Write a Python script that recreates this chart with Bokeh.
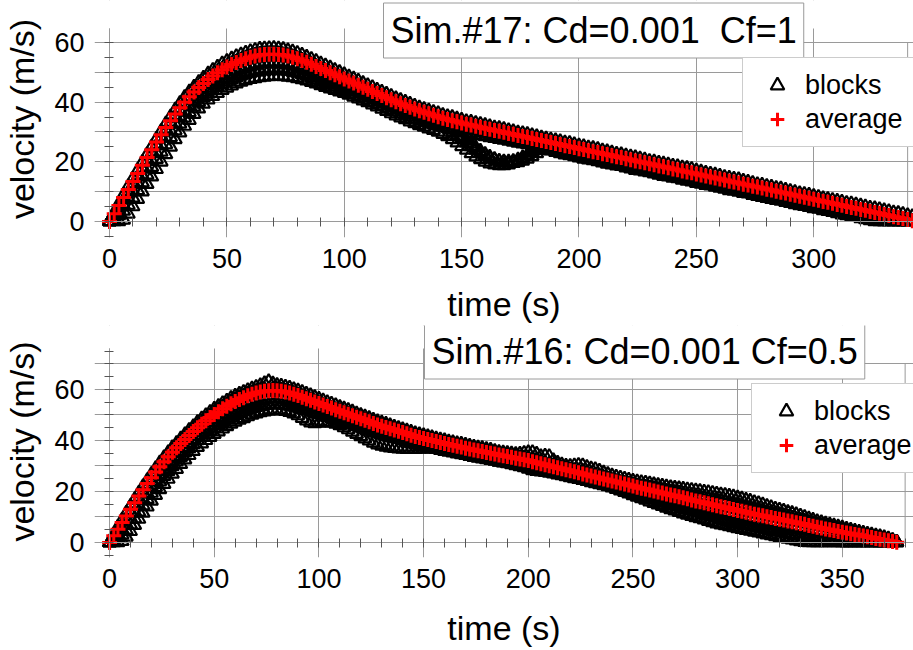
import numpy as np
from bokeh.plotting import figure
from bokeh.layouts import column
from bokeh.models import (Range1d, SingleIntervalTicker, Label, Legend, LegendItem,
                          ColumnDataSource, LinearAxis, CustomJSTickFormatter, BoxAnnotation)
from bokeh.embed import file_html
from bokeh.resources import INLINE

FONT = "Liberation Sans"
GRID = "#9a9a9a"
TICK = "#555555"

# ---------------- Sim.#17 (Cd=0.001, Cf=1) ----------------
TOP_T = np.arange(0, 343, 2)          # sample times (s)
TOP_AVG = [
    0.0, 2.6, 5.3, 8.0, 10.7, 13.4, 16.1, 18.8, 21.4, 24.0,
    26.6, 29.1, 31.5, 33.8, 36.0, 38.1, 40.0, 41.8, 43.4, 44.9,
    46.3, 47.6, 48.8, 49.9, 50.9, 51.8, 52.6, 53.3, 54.0, 54.6,
    55.1, 55.5, 55.8, 56.0, 56.1, 56.1, 56.0, 55.8, 55.5, 55.1,
    54.6, 54.0, 53.4, 52.7, 52.0, 51.3, 50.6, 49.9, 49.2, 48.5,
    47.8, 47.1, 46.4, 45.7, 45.0, 44.3, 43.6, 42.9, 42.2, 41.5,
    40.8, 40.1, 39.5, 38.9, 38.3, 37.7, 37.1, 36.6, 36.1, 35.6,
    35.1, 34.6, 34.2, 33.8, 33.4, 33.0, 32.6, 32.3, 31.9, 31.6,
    31.2, 30.9, 30.5, 30.2, 29.9, 29.5, 29.2, 28.8, 28.5, 28.2,
    27.8, 27.5, 27.1, 26.8, 26.5, 26.1, 25.8, 25.4, 25.1, 24.8,
    24.4, 24.1, 23.7, 23.4, 23.1, 22.7, 22.4, 22.0, 21.7, 21.4,
    21.0, 20.7, 20.3, 20.0, 19.7, 19.3, 19.0, 18.6, 18.3, 18.0,
    17.6, 17.3, 16.9, 16.6, 16.3, 15.9, 15.6, 15.2, 14.9, 14.6,
    14.2, 13.9, 13.5, 13.2, 12.9, 12.5, 12.2, 11.8, 11.5, 11.2,
    10.8, 10.5, 10.1, 9.8, 9.5, 9.1, 8.8, 8.4, 8.1, 7.8,
    7.4, 7.1, 6.7, 6.4, 6.1, 5.7, 5.4, 5.0, 4.7, 4.4,
    4.0, 3.7, 3.3, 3.0, 2.7, 2.3, 2.0, 1.6, 1.3, 1.0,
    0.6, 0.2]

# individual blocks, as departure from the average (m/s)
TOP_BLOCK_A = [
    0.0, 0.4, 0.7, 0.9, 1.0, 1.0, 1.0, 1.0, 1.0, 1.0,
    1.0, 1.1, 1.2, 1.3, 1.4, 1.5, 1.6, 1.7, 1.7, 1.8,
    1.8, 1.9, 1.9, 1.9, 2.0, 1.9, 1.9, 2.0, 1.9, 1.9,
    1.9, 1.9, 2.0, 1.9, 1.9, 2.0, 1.9, 1.9, 1.8, 1.8,
    1.8, 1.8, 1.7, 1.7, 1.7, 1.6, 1.6, 1.6, 1.5, 1.5,
    1.5, 1.4, 1.4, 1.4, 1.3, 1.3, 1.3, 1.2, 1.2, 1.2,
    1.2, 1.1, 1.1, 1.1, 1.1, 1.0, 1.0, 1.0, 1.0, 1.0,
    1.1, 1.0, 1.0, 1.1, 1.0, 1.0, 0.9, 1.0, 1.0, 1.0,
    1.0, 0.9, 0.9, 1.0, 1.0, 1.0, 0.9, 0.9, 1.0, 1.0,
    1.0, 1.0, 0.9, 0.9, 0.9, 1.0, 1.0, 1.0, 1.1, 1.0,
    1.0, 1.0, 1.0, 1.1, 1.1, 1.0, 1.0, 1.0, 0.9, 1.0,
    1.0, 1.0, 1.1, 1.0, 1.0, 0.9, 1.0, 1.0, 1.0, 1.0,
    1.0, 1.1, 1.1, 1.2, 1.2, 1.1, 1.0, 1.0, 1.0, 1.0,
    1.0, 0.9, 1.0, 1.0, 1.1, 1.0, 1.0, 1.0, 0.9, 1.0,
    1.0, 1.0, 1.0, 1.1, 1.0, 1.0, 1.0, 0.9, 1.0, 1.0,
    1.0, 1.0, 1.0, 1.0, 1.0, 1.1, 1.1, 1.1, 1.2, 1.2,
    1.2, 1.2, 1.2, 1.3, 1.3, 1.3, 1.3, 1.3, 1.4, 1.4,
    1.4, 1.4]
TOP_BLOCK_B = [
    0.0, -0.2, -0.5, -0.8, -1.0, -1.1, -1.2, -1.2, -1.2, -1.2,
    -1.2, -1.1, -1.0, -0.9, -0.8, -0.7, -0.6, -0.5, -0.4, -0.3,
    -0.2, -0.1, 0.0, 0.0, 0.1, 0.1, 0.2, 0.2, 0.2, 0.3,
    0.3, 0.3, 0.3, 0.3, 0.3, 0.3, 0.3, 0.2, 0.2, 0.2,
    0.1, 0.1, 0.0, 0.0, 0.0, -0.1, -0.1, -0.1, -0.2, -0.2,
    -0.2, -0.2, -0.3, -0.3, -0.3, -0.3, -0.3, -0.3, -0.3, -0.3,
    -0.3, -0.4, -0.4, -0.3, -0.3, -0.4, -0.4, -0.4, -0.3, -0.3,
    -0.4, -0.4, -0.4, -0.4, -0.3, -0.3, -0.4, -0.4, -0.4, -0.4,
    -0.4, -0.3, -0.3, -0.4, -0.4, -0.4, -0.4, -0.3, -0.3, -0.4,
    -0.4, -0.4, -0.4, -0.4, -0.3, -0.3, -0.4, -0.4, -0.4, -0.4,
    -0.3, -0.4, -0.4, -0.4, -0.4, -0.3, -0.4, -0.4, -0.4, -0.3,
    -0.4, -0.4, -0.3, -0.4, -0.4, -0.4, -0.4, -0.3, -0.4, -0.4,
    -0.4, -0.4, -0.3, -0.4, -0.4, -0.4, -0.3, -0.4, -0.4, -0.4,
    -0.4, -0.3, -0.4, -0.4, -0.4, -0.4, -0.3, -0.4, -0.4, -0.4,
    -0.3, -0.4, -0.4, -0.4, -0.4, -0.3, -0.4, -0.4, -0.4, -0.4,
    -0.4, -0.3, -0.4, -0.4, -0.4, -0.4, -0.4, -0.3, -0.4, -0.4,
    -0.4, -0.4, -0.4, -0.4, -0.4, -0.4, -0.4, -0.4, -0.4, -0.4,
    -0.3, -0.1]
TOP_BLOCK_C = [
    0.0, -0.8, -1.8, -2.6, -3.1, -3.4, -3.5, -3.6, -3.6, -3.6,
    -3.6, -3.5, -3.5, -3.4, -3.3, -3.2, -3.1, -3.0, -2.9, -2.8,
    -2.8, -2.8, -2.8, -2.9, -2.9, -2.9, -3.0, -3.0, -3.0, -3.0,
    -3.0, -3.0, -3.0, -3.0, -3.0, -2.9, -2.9, -2.8, -2.8, -2.7,
    -2.7, -2.6, -2.6, -2.5, -2.5, -2.4, -2.4, -2.3, -2.3, -2.2,
    -2.2, -2.1, -2.1, -2.0, -2.0, -2.0, -1.9, -1.9, -1.9, -1.9,
    -1.8, -1.8, -1.8, -1.7, -1.7, -1.7, -1.7, -1.6, -1.6, -1.6,
    -1.6, -1.6, -1.5, -1.6, -1.5, -1.5, -1.6, -1.5, -1.5, -1.5,
    -1.5, -1.6, -1.5, -1.5, -1.5, -1.6, -1.5, -1.5, -1.6, -1.5,
    -1.5, -1.5, -1.6, -1.5, -1.5, -1.5, -1.5, -1.6, -1.5, -1.5,
    -1.6, -1.5, -1.5, -1.5, -1.6, -1.5, -1.5, -1.5, -1.5, -1.6,
    -1.5, -1.5, -1.6, -1.5, -1.5, -1.5, -1.6, -1.5, -1.5, -1.5,
    -1.5, -1.6, -1.5, -1.5, -1.5, -1.5, -1.6, -1.5, -1.5, -1.5,
    -1.6, -1.5, -1.5, -1.5, -1.5, -1.6, -1.5, -1.5, -1.5, -1.5,
    -1.5, -1.5, -1.6, -1.5, -1.5, -1.5, -1.5, -1.6, -1.5, -1.5,
    -1.5, -1.5, -1.5, -1.6, -1.5, -1.5, -1.5, -1.5, -1.5, -1.5,
    -1.5, -1.5, -1.5, -1.5, -1.5, -1.5, -1.5, -1.5, -1.3, -1.0,
    -0.6, -0.2]
TOP_BLOCK_D = [
    0.0, -1.6, -3.3, -4.5, -5.2, -5.5, -5.7, -5.8, -5.8, -5.8,
    -5.8, -5.8, -5.7, -5.6, -5.5, -5.4, -5.3, -5.2, -5.0, -4.9,
    -4.8, -4.8, -4.8, -4.9, -4.9, -5.0, -5.0, -5.1, -5.1, -5.2,
    -5.2, -5.3, -5.3, -5.3, -5.3, -5.3, -5.2, -5.1, -5.0, -4.9,
    -4.8, -4.7, -4.6, -4.5, -4.4, -4.3, -4.2, -4.1, -4.0, -3.9,
    -3.8, -3.7, -3.6, -3.6, -3.5, -3.5, -3.4, -3.4, -3.4, -3.3,
    -3.3, -3.3, -3.3, -3.2, -3.2, -3.2, -3.2, -3.1, -3.1, -3.1,
    -3.1, -3.0, -3.0, -3.0, -2.9, -2.9, -2.9, -2.8, -2.8, -2.8,
    -2.7, -2.7, -2.6, -2.6, -2.6, -2.5, -2.5, -2.5, -2.4, -2.4,
    -2.4, -2.4, -2.5, -2.4, -2.4, -2.4, -2.3, -2.4, -2.4, -2.4,
    -2.4, -2.5, -2.4, -2.4, -2.4, -2.3, -2.4, -2.4, -2.4, -2.5,
    -2.4, -2.4, -2.4, -2.3, -2.4, -2.4, -2.5, -2.4, -2.4, -2.4,
    -2.4, -2.4, -2.3, -2.4, -2.4, -2.4, -2.5, -2.4, -2.4, -2.4,
    -2.4, -2.3, -2.4, -2.4, -2.4, -2.4, -2.5, -2.4, -2.4, -2.4,
    -2.4, -2.4, -2.4, -2.3, -2.4, -2.4, -2.4, -2.4, -2.5, -2.4,
    -2.4, -2.4, -2.4, -2.4, -2.3, -2.4, -2.4, -2.4, -2.4, -2.4,
    -2.4, -2.4, -2.4, -2.4, -2.4, -2.3, -2.0, -1.6, -1.3, -1.0,
    -0.6, -0.2]
TOP_BLOCK_E = [
    0.0, -2.6, -5.3, -7.5, -8.2, -8.4, -8.6, -8.8, -8.9, -9.0,
    -9.1, -9.1, -9.0, -8.8, -8.5, -8.3, -8.0, -7.8, -7.4, -7.1,
    -6.9, -6.8, -6.8, -6.9, -6.9, -7.0, -7.1, -7.1, -7.2, -7.3,
    -7.4, -7.5, -7.5, -7.5, -7.5, -7.4, -7.3, -7.2, -7.0, -6.8,
    -6.6, -6.4, -6.2, -6.0, -5.8, -5.7, -5.6, -5.4, -5.2, -5.0,
    -4.8, -4.7, -4.6, -4.5, -4.5, -4.4, -4.4, -4.4, -4.5, -4.5,
    -4.6, -4.6, -4.7, -4.7, -4.8, -4.8, -4.9, -4.9, -5.0, -5.0,
    -5.1, -5.3, -5.7, -6.3, -7.0, -7.8, -8.6, -9.5, -10.2, -10.8,
    -11.2, -11.5, -11.5, -11.4, -11.1, -10.5, -9.7, -8.6, -7.5, -6.2,
    -4.8, -3.6, -2.9, -2.7, -2.8, -2.9, -3.0, -3.0, -3.0, -3.0,
    -3.0, -3.1, -3.0, -2.9, -3.0, -3.0, -3.1, -3.0, -3.0, -2.9,
    -3.0, -3.0, -3.1, -3.0, -3.0, -2.9, -3.0, -3.0, -3.1, -3.0,
    -3.0, -2.9, -3.0, -3.0, -3.0, -3.1, -3.0, -3.0, -2.9, -3.0,
    -3.0, -3.0, -3.1, -3.0, -3.0, -3.0, -2.9, -3.0, -3.0, -3.1,
    -3.0, -3.0, -3.0, -2.9, -3.0, -3.0, -3.1, -3.0, -3.0, -3.0,
    -3.0, -2.9, -3.0, -3.0, -3.0, -3.0, -3.1, -3.0, -3.0, -3.0,
    -3.0, -3.0, -3.0, -3.0, -2.7, -2.3, -2.0, -1.6, -1.3, -1.0,
    -0.6, -0.2]

# two more blocks that slow down strongly between ~145 s and ~185 s
TOP_DIP1_T = np.arange(146, 185, 2)
TOP_DIP1_V = [29.7, 28.7, 27.6, 26.4, 25.2, 24.0, 22.9, 22.0, 21.2, 20.6,
              20.2, 20.0, 20.0, 20.2, 20.7, 21.4, 22.2, 23.2, 24.2, 25.2]
TOP_DIP2_T = np.arange(150, 187, 2)
TOP_DIP2_V = [28.3, 27.2, 26.0, 24.8, 23.6, 22.5, 21.6, 20.8, 20.2, 19.8,
              19.6, 19.6, 19.8, 20.3, 21.0, 21.8, 22.8, 23.8, 24.8]

# ---------------- Sim.#16 (Cd=0.001, Cf=0.5) ----------------
BOT_T = np.arange(0, 377, 2)
BOT_AVG = [
    0.0, 2.6, 5.2, 7.8, 10.4, 13.0, 15.6, 18.2, 20.7, 23.1,
    25.4, 27.6, 29.7, 31.7, 33.6, 35.4, 37.1, 38.8, 40.4, 42.0,
    43.5, 45.0, 46.4, 47.7, 49.0, 50.2, 51.3, 52.4, 53.4, 54.4,
    55.3, 56.1, 56.8, 57.5, 58.1, 58.6, 59.0, 59.3, 59.5, 59.6,
    59.5, 59.3, 59.0, 58.6, 58.1, 57.6, 57.0, 56.4, 55.8, 55.1,
    54.5, 53.9, 53.3, 52.7, 52.1, 51.5, 50.9, 50.3, 49.7, 49.1,
    48.5, 47.9, 47.3, 46.7, 46.1, 45.6, 45.1, 44.6, 44.1, 43.6,
    43.1, 42.6, 42.1, 41.6, 41.2, 40.8, 40.4, 40.0, 39.6, 39.2,
    38.8, 38.4, 38.1, 37.7, 37.4, 37.0, 36.7, 36.3, 36.0, 35.7,
    35.3, 35.0, 34.7, 34.3, 34.0, 33.7, 33.4, 33.0, 32.7, 32.4,
    32.1, 31.7, 31.3, 30.9, 30.5, 30.1, 29.7, 29.3, 28.9, 28.5,
    28.1, 27.7, 27.3, 26.9, 26.5, 26.1, 25.7, 25.3, 24.9, 24.5,
    24.1, 23.7, 23.3, 22.9, 22.5, 22.1, 21.7, 21.3, 21.0, 20.6,
    20.2, 19.8, 19.4, 19.0, 18.6, 18.3, 17.9, 17.5, 17.1, 16.7,
    16.3, 16.0, 15.6, 15.2, 14.8, 14.4, 14.0, 13.7, 13.3, 12.9,
    12.5, 12.2, 11.8, 11.5, 11.1, 10.8, 10.5, 10.1, 9.8, 9.4,
    9.1, 8.8, 8.4, 8.1, 7.7, 7.4, 7.1, 6.7, 6.4, 6.0,
    5.7, 5.3, 5.0, 4.7, 4.3, 4.0, 3.7, 3.4, 3.1, 2.8,
    2.5, 2.2, 1.9, 1.6, 1.3, 1.0, 0.7, 0.4, 0.1]

BOT_BLOCK_A = [
    0.0, 0.4, 0.8, 1.0, 1.1, 1.2, 1.2, 1.2, 1.2, 1.2,
    1.3, 1.4, 1.5, 1.6, 1.7, 1.8, 1.8, 1.9, 1.9, 2.0,
    2.0, 2.1, 2.1, 2.1, 2.1, 2.1, 2.1, 2.1, 2.1, 2.1,
    2.1, 2.1, 2.1, 2.1, 2.2, 2.3, 2.5, 3.0, 3.6, 2.6,
    2.1, 2.0, 2.0, 2.0, 1.9, 1.9, 1.9, 1.8, 1.8, 1.8,
    1.7, 1.7, 1.6, 1.6, 1.6, 1.5, 1.5, 1.5, 1.5, 1.4,
    1.4, 1.4, 1.4, 1.3, 1.3, 1.3, 1.3, 1.3, 1.2, 1.2,
    1.2, 1.2, 1.2, 1.1, 1.1, 1.1, 1.1, 1.1, 1.1, 1.1,
    1.2, 1.1, 1.1, 1.1, 1.2, 1.2, 1.1, 1.1, 1.1, 1.2,
    1.2, 1.2, 1.1, 1.1, 1.2, 1.3, 1.4, 1.6, 2.0, 2.6,
    3.2, 3.6, 3.4, 2.8, 3.4, 3.6, 2.4, 1.8, 1.6, 1.5,
    1.8, 2.4, 3.0, 3.2, 3.0, 2.8, 2.9, 2.7, 2.4, 2.2,
    2.0, 2.0, 2.0, 2.0, 2.0, 2.0, 2.1, 2.2, 2.3, 2.4,
    2.5, 2.6, 2.7, 2.8, 2.9, 3.0, 3.2, 3.4, 3.6, 3.8,
    4.0, 4.1, 4.2, 4.4, 4.5, 4.6, 4.7, 4.8, 4.9, 5.0,
    5.0, 4.9, 4.8, 4.7, 4.6, 4.5, 4.3, 4.1, 3.9, 3.7,
    3.6, 3.5, 3.4, 3.3, 3.2, 3.0, 2.8, 2.6, 2.4, 2.2,
    2.1, 2.0, 1.9, 1.8, 1.8, 1.7, 1.6, 1.5, 1.4, 1.3,
    1.2, 1.1, 1.1, 1.0, 1.0, 0.9, 0.7, 0.4, 0.1]
BOT_BLOCK_B = [
    0.0, -0.3, -0.6, -0.9, -1.1, -1.2, -1.3, -1.3, -1.3, -1.3,
    -1.2, -1.1, -1.0, -0.9, -0.8, -0.6, -0.4, -0.2, 0.0, 0.2,
    0.3, 0.4, 0.5, 0.6, 0.6, 0.7, 0.7, 0.7, 0.7, 0.7,
    0.7, 0.7, 0.7, 0.7, 0.7, 0.7, 0.7, 0.7, 0.7, 0.6,
    0.6, 0.5, 0.5, 0.4, 0.4, 0.3, 0.3, 0.2, 0.2, 0.1,
    0.1, 0.1, 0.0, 0.0, 0.0, 0.1, 0.1, 0.1, 0.2, 0.2,
    0.2, 0.2, 0.2, 0.3, 0.3, 0.3, 0.3, 0.3, 0.3, 0.3,
    0.3, 0.3, 0.3, 0.3, 0.3, 0.3, 0.3, 0.3, 0.3, 0.3,
    0.3, 0.3, 0.2, 0.2, 0.2, 0.2, 0.2, 0.2, 0.3, 0.3,
    0.3, 0.3, 0.3, 0.3, 0.3, 0.3, 0.4, 0.5, 0.6, 0.8,
    1.0, 1.2, 1.1, 0.9, 0.8, 0.7, 0.5, 0.4, 0.3, 0.3,
    0.4, 0.6, 0.9, 1.0, 1.0, 0.9, 0.8, 0.6, 0.5, 0.4,
    0.3, 0.3, 0.3, 0.4, 0.4, 0.5, 0.5, 0.6, 0.7, 0.8,
    0.9, 1.0, 1.1, 1.2, 1.3, 1.4, 1.5, 1.6, 1.7, 1.8,
    1.9, 2.0, 2.1, 2.2, 2.3, 2.4, 2.4, 2.5, 2.5, 2.5,
    2.5, 2.5, 2.4, 2.4, 2.3, 2.2, 2.1, 2.0, 2.0, 1.9,
    1.8, 1.7, 1.6, 1.5, 1.4, 1.4, 1.3, 1.2, 1.1, 1.0,
    1.0, 0.9, 0.9, 0.8, 0.8, 0.8, 0.7, 0.7, 0.7, 0.6,
    0.6, 0.6, 0.5, 0.5, 0.5, 0.5, 0.4, 0.3, 0.1]
BOT_BLOCK_C = [
    0.0, -0.9, -2.0, -3.0, -3.6, -3.9, -4.0, -4.0, -4.0, -3.9,
    -3.8, -3.7, -3.6, -3.5, -3.4, -3.3, -3.2, -3.1, -3.0, -2.9,
    -2.9, -2.9, -2.9, -3.0, -3.0, -3.0, -3.1, -3.1, -3.1, -3.2,
    -3.2, -3.2, -3.2, -3.2, -3.2, -3.2, -3.2, -3.2, -3.1, -3.1,
    -3.0, -3.0, -2.9, -2.9, -2.8, -2.8, -2.7, -2.7, -2.6, -2.6,
    -2.5, -2.5, -2.4, -2.4, -2.3, -2.3, -2.2, -2.2, -2.1, -2.1,
    -2.0, -2.0, -2.0, -1.9, -1.9, -1.9, -1.9, -1.9, -1.8, -1.8,
    -1.8, -1.8, -1.8, -1.8, -1.8, -1.7, -1.7, -1.7, -1.7, -1.7,
    -1.7, -1.7, -1.6, -1.6, -1.6, -1.6, -1.6, -1.6, -1.6, -1.6,
    -1.6, -1.6, -1.5, -1.5, -1.5, -1.5, -1.5, -1.5, -1.4, -1.4,
    -1.4, -1.4, -1.3, -1.3, -1.3, -1.3, -1.3, -1.3, -1.2, -1.2,
    -1.2, -1.2, -1.2, -1.2, -1.2, -1.2, -1.2, -1.2, -1.2, -1.2,
    -1.2, -1.2, -1.2, -1.2, -1.2, -1.2, -1.3, -1.4, -1.5, -1.6,
    -1.7, -1.8, -1.9, -2.0, -2.1, -2.2, -2.3, -2.4, -2.4, -2.5,
    -2.5, -2.6, -2.6, -2.6, -2.6, -2.6, -2.6, -2.6, -2.6, -2.6,
    -2.6, -2.6, -2.6, -2.6, -2.6, -2.6, -2.5, -2.5, -2.5, -2.5,
    -2.5, -2.5, -2.5, -2.4, -2.4, -2.4, -2.3, -2.3, -2.2, -2.2,
    -2.1, -2.1, -2.0, -2.0, -2.0, -1.9, -1.9, -1.8, -1.8, -1.7,
    -1.7, -1.6, -1.5, -1.4, -1.3, -1.0, -0.7, -0.4, -0.1]
BOT_BLOCK_D = [
    0.0, -1.6, -3.4, -4.8, -5.6, -6.0, -6.2, -6.2, -6.2, -6.1,
    -6.0, -5.9, -5.8, -5.7, -5.6, -5.5, -5.4, -5.3, -5.2, -5.1,
    -5.0, -5.0, -5.0, -5.1, -5.1, -5.2, -5.2, -5.3, -5.3, -5.4,
    -5.4, -5.5, -5.5, -5.5, -5.5, -5.5, -5.5, -5.4, -5.4, -5.3,
    -5.3, -5.2, -5.1, -5.0, -4.9, -4.8, -4.7, -4.6, -4.5, -4.4,
    -4.3, -4.2, -4.1, -4.0, -3.9, -3.8, -3.7, -3.7, -3.6, -3.6,
    -3.5, -3.5, -3.5, -3.4, -3.4, -3.4, -3.3, -3.3, -3.3, -3.2,
    -3.2, -3.2, -3.1, -3.1, -3.1, -3.0, -3.0, -3.0, -3.0, -3.0,
    -3.0, -2.9, -2.9, -2.9, -2.9, -2.8, -2.8, -2.8, -2.8, -2.8,
    -2.7, -2.7, -2.7, -2.7, -2.6, -2.6, -2.6, -2.6, -2.6, -2.5,
    -2.5, -2.5, -2.5, -2.4, -2.4, -2.4, -2.4, -2.3, -2.3, -2.3,
    -2.3, -2.3, -2.2, -2.2, -2.2, -2.2, -2.2, -2.2, -2.2, -2.2,
    -2.2, -2.2, -2.2, -2.2, -2.2, -2.2, -2.4, -2.6, -2.8, -3.0,
    -3.2, -3.3, -3.4, -3.5, -3.6, -3.8, -3.9, -4.0, -4.1, -4.2,
    -4.3, -4.4, -4.5, -4.6, -4.7, -4.8, -4.9, -5.0, -5.0, -5.0,
    -5.0, -5.0, -5.0, -5.0, -5.0, -5.0, -5.0, -5.0, -5.0, -5.0,
    -5.0, -5.0, -5.0, -4.9, -4.9, -4.8, -4.8, -4.7, -4.7, -4.6,
    -4.6, -4.5, -4.4, -4.3, -4.2, -4.0, -3.7, -3.4, -3.1, -2.8,
    -2.5, -2.2, -1.9, -1.6, -1.3, -1.0, -0.7, -0.4, -0.1]
BOT_BLOCK_E = [
    0.0, -2.6, -5.2, -7.3, -8.2, -8.6, -8.8, -9.0, -9.1, -9.1,
    -9.1, -9.0, -8.9, -8.8, -8.7, -8.5, -8.3, -8.1, -7.9, -7.8,
    -7.7, -7.6, -7.6, -7.6, -7.7, -7.7, -7.8, -7.8, -7.9, -7.9,
    -8.0, -8.0, -8.1, -8.1, -8.1, -8.1, -8.0, -8.0, -7.9, -7.8,
    -7.7, -7.6, -7.5, -7.5, -7.6, -7.8, -8.2, -8.6, -8.8, -8.4,
    -7.6, -6.8, -6.2, -5.8, -5.6, -5.6, -5.8, -6.0, -6.3, -6.6,
    -6.9, -7.2, -7.4, -7.6, -7.7, -7.7, -7.6, -7.4, -7.1, -6.8,
    -6.4, -6.0, -5.5, -5.0, -4.5, -4.0, -3.6, -3.3, -3.0, -2.8,
    -2.7, -2.6, -2.6, -2.6, -2.5, -2.5, -2.5, -2.6, -2.6, -2.6,
    -2.6, -2.6, -2.6, -2.7, -2.7, -2.7, -2.8, -2.8, -2.9, -3.0,
    -3.2, -3.4, -3.3, -3.1, -2.9, -2.8, -2.7, -2.7, -2.6, -2.6,
    -2.6, -2.6, -2.5, -2.5, -2.5, -2.5, -2.5, -2.5, -2.5, -2.5,
    -2.6, -2.8, -3.0, -3.2, -3.4, -3.6, -3.8, -4.0, -4.3, -4.6,
    -4.8, -5.0, -5.2, -5.4, -5.6, -5.8, -6.0, -6.2, -6.3, -6.4,
    -6.5, -6.6, -6.7, -6.8, -6.9, -7.0, -7.0, -7.0, -7.0, -7.0,
    -7.0, -7.0, -7.0, -7.0, -7.0, -7.0, -7.0, -7.0, -7.0, -7.0,
    -7.0, -7.0, -7.0, -7.0, -7.0, -7.0, -7.0, -6.7, -6.4, -6.0,
    -5.7, -5.3, -5.0, -4.7, -4.3, -4.0, -3.7, -3.4, -3.1, -2.8,
    -2.5, -2.2, -1.9, -1.6, -1.3, -1.0, -0.7, -0.4, -0.1]


def style_text_axis(ax, label_standoff, axis_standoff):
    """Axis at the frame edge that only carries the numbers and the title."""
    ax.axis_line_color = None
    ax.major_tick_line_color = None
    ax.minor_tick_line_color = None
    ax.major_label_text_font = FONT
    ax.major_label_text_font_size = "27px"
    ax.major_label_text_color = "black"
    ax.axis_label_text_font = FONT
    ax.axis_label_text_font_size = "34px"
    ax.axis_label_text_font_style = "normal"
    ax.axis_label_text_color = "black"
    ax.major_label_standoff = label_standoff
    ax.axis_label_standoff = axis_standoff


def origin_axis(ticker, bounds):
    """Axis line with small ticks drawn through the origin, no labels."""
    ax = LinearAxis(ticker=ticker, fixed_location=0, bounds=bounds,
                    formatter=CustomJSTickFormatter(code="return ''"))
    ax.axis_line_color = GRID
    ax.major_tick_in = 0
    ax.major_tick_out = 0
    ax.minor_tick_line_color = TICK
    ax.minor_tick_in = 4
    ax.minor_tick_out = 5
    return ax


def make_panel(t, avg, block_devs, extra_blocks, x_range, y_range, y_canvas_top, x_edge, y_edge,
               title, title_pos, legend_pos, border_bottom, time_standoff):
    # the frame reaches the top of the canvas so the title box can sit above the grid
    p = figure(width=913, height=325, x_range=Range1d(*x_range),
               y_range=Range1d(y_range[0], y_canvas_top),
               output_backend="svg", toolbar_location=None, title_location=None,
               min_border_left=94, min_border_right=0,
               min_border_top=0, min_border_bottom=border_bottom)
    p.outline_line_color = None
    p.background_fill_color = "white"
    p.border_fill_color = "white"

    # grid: every 50 s and every 10 m/s
    p.xgrid.ticker = SingleIntervalTicker(interval=50)
    p.ygrid.ticker = SingleIntervalTicker(interval=10)
    for g in (p.xgrid[0], p.ygrid[0]):
        g.grid_line_color = GRID
        g.grid_line_width = 1
    # blank strip above the top of the grid
    p.add_layout(BoxAnnotation(bottom=y_range[1], fill_color="white", fill_alpha=1.0,
                               line_color=None, level="underlay"))

    # numbers and titles sit on the frame edges
    xa = p.xaxis[0]
    ya = p.yaxis[0]
    xa.ticker = SingleIntervalTicker(interval=50)
    ya.ticker = SingleIntervalTicker(interval=20)
    ya.bounds = y_range
    xa.axis_label = "time (s)"
    ya.axis_label = "velocity (m/s)"
    style_text_axis(xa, 5, time_standoff)
    style_text_axis(ya, 4, 10)

    # axis lines with minor ticks through the origin
    p.add_layout(origin_axis(SingleIntervalTicker(interval=50, num_minor_ticks=5), x_range), "below")
    p.add_layout(origin_axis(SingleIntervalTicker(interval=20, num_minor_ticks=4), y_range), "left")

    # right-hand frame edge of the data area
    p.segment(x0=[x_edge], y0=[0], x1=[x_edge], y1=[y_edge], line_color=GRID, line_width=1)

    avg = np.asarray(avg, dtype=float)
    bt, bv = [], []
    for dev in block_devs:
        bt.append(t)
        bv.append(np.maximum(avg + np.asarray(dev, dtype=float), 0.0))
    for et, ev in extra_blocks:
        bt.append(et)
        bv.append(np.asarray(ev, dtype=float))
    blocks = ColumnDataSource(dict(t=np.concatenate(bt), v=np.concatenate(bv)))
    mean = ColumnDataSource(dict(t=t, v=avg))

    tri = p.scatter("t", "v", source=blocks, marker="triangle", size=13,
                    fill_color=None, line_color="black", line_width=2.2)
    crs = p.scatter("t", "v", source=mean, marker="cross", size=15,
                    line_color="red", line_width=3)

    legend = Legend(items=[LegendItem(label="blocks", renderers=[tri]),
                           LegendItem(label="average", renderers=[crs])],
                    location=legend_pos, label_text_font=FONT, label_text_font_size="27px",
                    label_text_color="black", glyph_height=34, glyph_width=48,
                    label_height=34, label_standoff=4, spacing=0, padding=10, margin=0,
                    border_line_color=GRID, border_line_width=1,
                    background_fill_color="white", background_fill_alpha=1.0)
    p.add_layout(legend)

    p.add_layout(Label(x=title_pos[0], y=title_pos[1], x_units="screen", y_units="screen",
                       text=title, text_font=FONT, text_font_size="36px", text_color="black",
                       text_align="left", text_baseline="middle", level="overlay",
                       background_fill_color="white", border_line_color=GRID,
                       border_line_width=1, padding=7))
    return p


top = make_panel(TOP_T, TOP_AVG,
                 [TOP_BLOCK_A, TOP_BLOCK_B, TOP_BLOCK_C, TOP_BLOCK_D, TOP_BLOCK_E],
                 [(TOP_DIP1_T, TOP_DIP1_V), (TOP_DIP2_T, TOP_DIP2_V)],
                 (-6.4, 342.5), (-5.4, 64.7), 74.1, 340, 60,
                 "Sim.#17: Cd=0.001 \u00a0Cf=1", (289, 207), (648, 90), 88, 14)

bottom = make_panel(BOT_T, BOT_AVG,
                    [BOT_BLOCK_A, BOT_BLOCK_B, BOT_BLOCK_C, BOT_BLOCK_D, BOT_BLOCK_E],
                    [],
                    (-7.2, 384.0), (-5.9, 76.1), 85.1, 380, 70,
                    "Sim.#16: Cd=0.001 Cf=0.5", (330, 206), (657, 84), 93, 18)

layout = column(top, bottom, spacing=0)
open("out.html", "w").write(file_html(layout, INLINE))
